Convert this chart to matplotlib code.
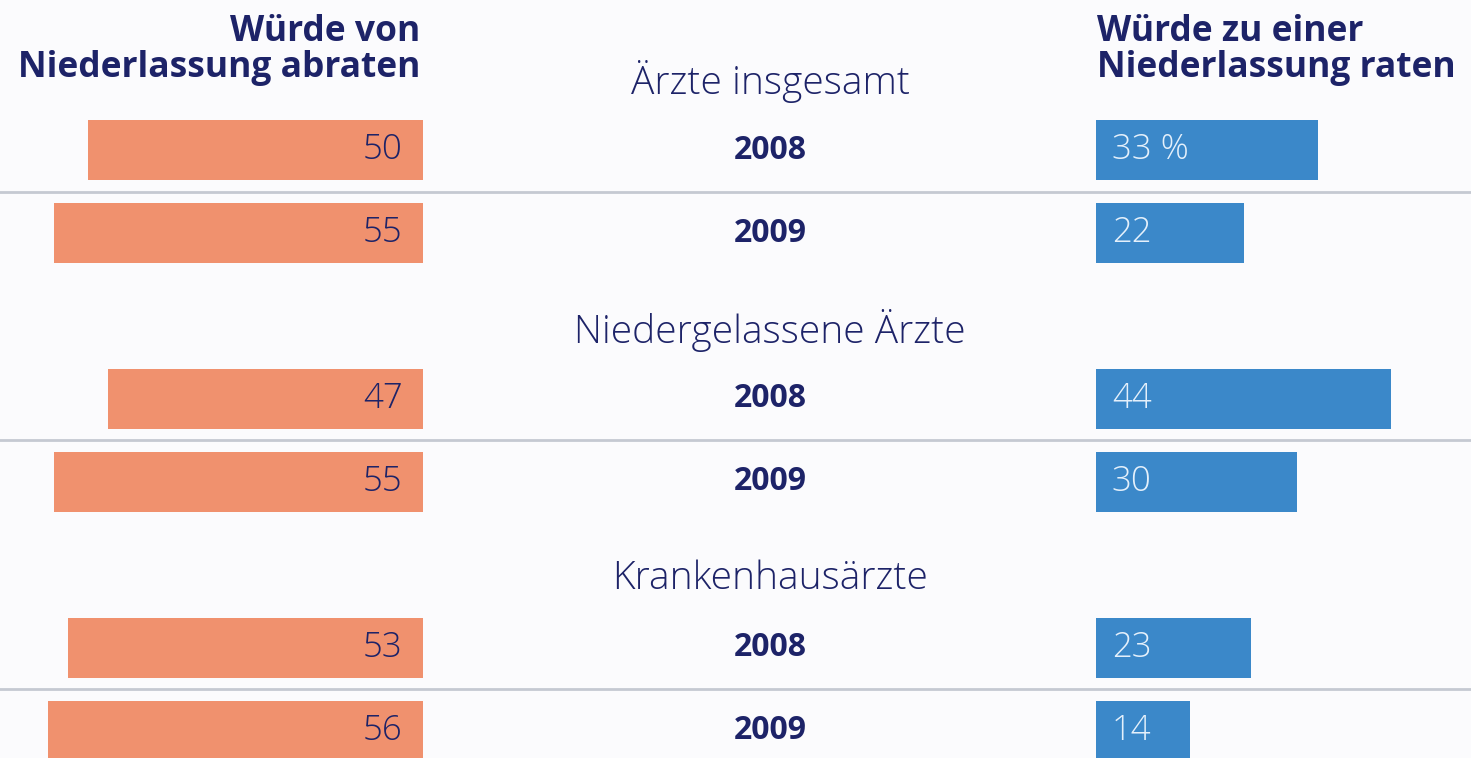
import matplotlib.pyplot as plt
import numpy as np

# Data
groups = ['Ärzte insgesamt', 'Niedergelassene Ärzte', 'Krankenhausärzte']
years = ['2008', '2009']
abraten = [50, 55, 47, 55, 53, 56]   # Würde von Niederlassung abraten
raten = [33, 22, 44, 30, 23, 14]     # Würde zu einer Niederlassung raten

left_title = 'Würde von\nNiederlassung abraten'
right_title = 'Würde zu einer\nNiederlassung raten'

orange = '#f0916e'
blue = '#3b88c9'
navy = '#1d2368'
bg = '#fbfbfd'

plt.rcParams['font.family'] = ['Open Sans', 'DejaVu Sans']

fig = plt.figure(figsize=(14.71, 7.58), dpi=100, facecolor=bg)
ax = fig.add_axes([0, 0, 1, 1])
ax.set_facecolor(bg)

# x in percentage units, 1 unit ~ 6.7 px
left_origin = 63.1
right_origin = 163.6
center = 114.9
ax.set_xlim(0, 219.5)
ax.set_ylim(8.33, -0.81)
ax.axis('off')

row_y = []
for g in range(len(groups)):
    row_y += [g * 3 + 1, g * 3 + 2]
row_y = np.array(row_y)
bar_h = 0.72

ax.barh(row_y, [-v for v in abraten], left=left_origin, height=bar_h, color=orange)
ax.barh(row_y, raten, left=right_origin, height=bar_h, color=blue)

for i, y in enumerate(row_y):
    ax.text(left_origin - 3.0, y, str(abraten[i]), ha='right', va='center',
            fontsize=25, color=navy, fontweight='light')
    lab = f'{raten[i]} %' if i == 0 else str(raten[i])
    ax.text(right_origin + 2.3, y, lab, ha='left', va='center',
            fontsize=25, color='#e4f0fb', fontweight='light')
    ax.text(center, y, years[i % 2], ha='center', va='center',
            fontsize=23, color=navy, fontweight='bold')

for g, name in enumerate(groups):
    ax.text(center, g * 3 + 0.17, name, ha='center', va='center',
            fontsize=28, color=navy, fontweight='light')
    ax.axhline(g * 3 + 1.5, color='#c5c9d2', linewidth=2)

ax.text(left_origin - 0.4, -0.21, left_title, ha='right', va='center',
        fontsize=25.5, color=navy, fontweight='bold', linespacing=1.0)
ax.text(right_origin + 0.1, -0.21, right_title, ha='left', va='center',
        fontsize=25.5, color=navy, fontweight='bold', linespacing=1.0)

fig.savefig('out.png', dpi=100, facecolor=bg)
